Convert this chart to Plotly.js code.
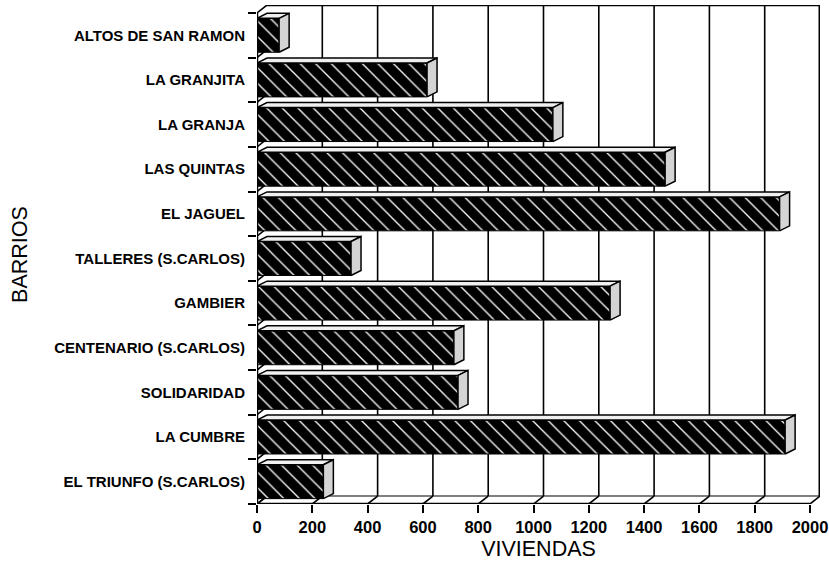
<!DOCTYPE html>
<html>
<head>
<meta charset="utf-8">
<script src="https://cdn.plot.ly/plotly-3.0.1.min.js"></script>
<style>html,body{margin:0;padding:0;background:#fff;}#chart{width:829px;height:562px;}</style>
</head>
<body>
<div id="chart"></div>
<script>
// Categories listed bottom -> top (as drawn)
const barrios = [
  "EL TRIUNFO (S.CARLOS)",
  "LA CUMBRE",
  "SOLIDARIDAD",
  "CENTENARIO (S.CARLOS)",
  "GAMBIER",
  "TALLERES (S.CARLOS)",
  "EL JAGUEL",
  "LAS QUINTAS",
  "LA GRANJA",
  "LA GRANJITA",
  "ALTOS DE SAN RAMON"
];
const viviendas = [240, 1910, 727, 712, 1277, 340, 1890, 1476, 1070, 615, 80];
const xTicks = [0, 200, 400, 600, 800, 1000, 1200, 1400, 1600, 1800, 2000];

// ---- geometry (styling only) ----
const XMAX = 2000;
const D = 36.2;      // wall depth in x units (~10px)
const E = 0.179;     // wall depth in y units (~8px)
const bdx = 36.2;    // bar depth x (~10px)
const bdy = 0.112;   // bar depth y (~5px)
const bh = 0.38;     // half bar thickness
const ypos = barrios.map((_, i) => i);
const yBounds = barrios.map((_, i) => i - 0.5).concat([barrios.length - 0.5]);
const YTOP = barrios.length - 0.5;

// top & side faces built from data
const topX = [], topY = [], sideX = [], sideY = [];
viviendas.forEach((v, i) => {
  const c = ypos[i];
  topX.push(0, bdx, v + bdx, v, 0, null);
  topY.push(c + bh, c + bh + bdy, c + bh + bdy, c + bh, c + bh, null);
  sideX.push(v, v, v + bdx, v + bdx, v, null);
  sideY.push(c - bh, c + bh, c + bh + bdy, c - bh + bdy, c - bh, null);
});

const traces = [
  {
    type: 'bar', orientation: 'h',
    x: viviendas, y: ypos, base: 0, width: 2 * bh,
    marker: {
      color: 'black',
      line: {color: 'black', width: 1},
      pattern: {shape: '\\', fgcolor: 'white', bgcolor: 'black', size: 11, solidity: 0.12, fillmode: 'replace'}
    },
    hoverinfo: 'x+y', showlegend: false
  },
  {
    type: 'scatter', mode: 'lines', x: topX, y: topY, fill: 'toself',
    fillcolor: '#f0f0f0', line: {color: 'black', width: 1.5},
    hoverinfo: 'skip', showlegend: false
  },
  {
    type: 'scatter', mode: 'lines', x: sideX, y: sideY, fill: 'toself',
    fillcolor: '#d4d4d4', line: {color: 'black', width: 1.5},
    hoverinfo: 'skip', showlegend: false
  }
];

const shapes = [];
const L = (x0, y0, x1, y1, w, layer) => shapes.push({type: 'line', xref: 'x', yref: 'y', x0, y0, x1, y1, layer: layer || 'below', line: {color: 'black', width: w}});
// back wall gridlines + floor slants
xTicks.forEach(v => {
  if (v > 0) L(v + D, -0.5 + E, v + D, YTOP + E, (v === XMAX ? 3 : 1.6));
  L(v, -0.5, v + D, -0.5 + E, 1.6);
});
// back top and back floor
L(D, YTOP + E, XMAX + D, YTOP + E, 2.5);
L(D, -0.5 + E, XMAX + D, -0.5 + E, 1.2);
// left wall slants
yBounds.forEach(b => L(0, b, D, b + E, 1.6));
// front axis lines
L(0, -0.5, XMAX, -0.5, 2.5, 'above');
L(0, -0.5, 0, YTOP, 2.5, 'above');

const tickFont = {family: 'Liberation Sans, Arial, sans-serif', size: 15, color: 'black', weight: 'bold'};

const layout = {
  width: 829, height: 562,
  margin: {l: 257, r: 9, t: 5, b: 58, pad: 0},
  paper_bgcolor: 'white', plot_bgcolor: 'white',
  showlegend: false,
  bargap: 0,
  xaxis: {
    range: [0, XMAX + D], showgrid: false, zeroline: false, showline: false,
    tickmode: 'array', tickvals: xTicks, ticktext: xTicks.map(String),
    ticks: 'outside', ticklen: 8, tickwidth: 2, tickcolor: 'black',
    tickfont: {family: 'Liberation Sans, Arial, sans-serif', size: 16.5, color: 'black', weight: 'bold'},
    title: {text: 'VIVIENDAS', font: {family: 'Liberation Sans, Arial, sans-serif', size: 21.5, color: 'black'}, standoff: 6}
  },
  yaxis: {
    range: [-0.5, YTOP + E], showgrid: false, zeroline: false, showline: false,
    tickmode: 'array', tickvals: ypos, ticktext: barrios,
    ticks: 'outside', ticklen: 8, tickcolor: 'rgba(0,0,0,0)',
    tickfont: tickFont,
    title: {text: 'BARRIOS', font: {family: 'Liberation Sans, Arial, sans-serif', size: 21.5, color: 'black'}, standoff: 20}
  },
  yaxis2: {
    overlaying: 'y', side: 'left', range: [-0.5, YTOP + E],
    showgrid: false, zeroline: false, showline: false,
    tickmode: 'array', tickvals: yBounds, showticklabels: false,
    ticks: 'outside', ticklen: 8, tickwidth: 2, tickcolor: 'black'
  },
  shapes: shapes
};

// invisible trace to activate yaxis2
traces.push({type: 'scatter', x: [0], y: [0], yaxis: 'y2', mode: 'markers', marker: {opacity: 0}, hoverinfo: 'skip', showlegend: false});

Plotly.newPlot('chart', traces, layout, {displayModeBar: false, staticPlot: true});
</script>
</body>
</html>
